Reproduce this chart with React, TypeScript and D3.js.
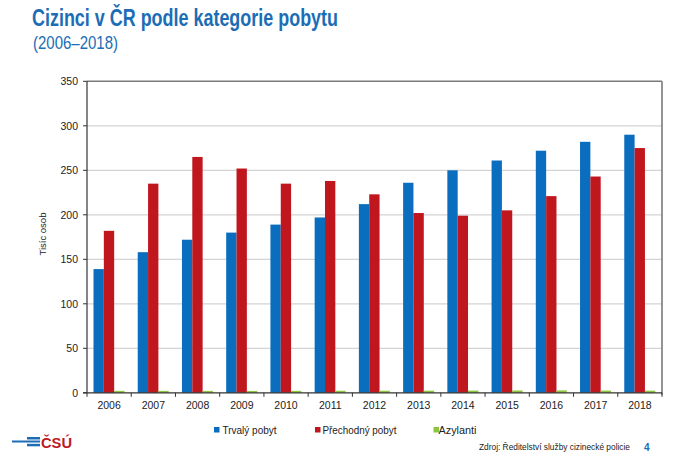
import React from "react";
import * as d3 from "d3";

const years = ["2006","2007","2008","2009","2010","2011","2012","2013","2014","2015","2016","2017","2018"];
const trvaly = [139, 158, 172, 180, 189, 197, 212, 236, 250, 261, 272, 282, 290];
const prechodny = [182, 235, 265, 252, 235, 238, 223, 202, 199, 205, 221, 243, 275];
const azylanti = [2.2, 2.2, 2.1, 2.1, 2.2, 2.3, 2.3, 2.4, 2.5, 2.6, 2.7, 2.5, 2.4];
const seriesNames = ["Trvalý pobyt", "Přechodný pobyt", "Azylanti"];
const yTicks = [0, 50, 100, 150, 200, 250, 300, 350];

const COLORS = ["#0a6dbd", "#c0171f", "#8cc63f"];
const FONT = "Liberation Sans, Arial, sans-serif";

export default function App() {
  const W = 682, H = 461;
  const left = 87, right = 662, top = 81.3, bottom = 392.8;
  const x = d3.scaleBand<string>().domain(years).range([left, right]).padding(0);
  const bw = x.bandwidth();
  const xs = d3.scaleBand<string>().domain(seriesNames).range([6.5, 37.5]).padding(0);
  const y = d3.scaleLinear().domain([0, 350]).range([bottom, top]);
  const data = [trvaly, prechodny, azylanti];

  const legendItems = [
    { name: seriesNames[0], sx: 214, tx: 222.5, len: 54 },
    { name: seriesNames[1], sx: 315, tx: 322.5, len: 74 },
    { name: seriesNames[2], sx: 433.5, tx: 438.5, len: 38 },
  ];

  return (
    <svg width={W} height={H} style={{ position: "absolute", left: 0, top: 0, background: "#fff" }}>
      <rect x={0} y={0} width={W} height={H} fill="#fff" />
      <text x={32} y={26} fontFamily={FONT} fontWeight="bold" fontSize={24} fill="#1b6db5"
        textLength={306} lengthAdjust="spacingAndGlyphs">Cizinci v ČR podle kategorie pobytu</text>
      <text x={33} y={49} fontFamily={FONT} fontSize={19} fill="#1b6db5"
        textLength={85} lengthAdjust="spacingAndGlyphs">(2006–2018)</text>

      {/* gridlines */}
      {yTicks.filter(t => t > 0 && t < 350).map(t => (
        <line key={t} x1={left} x2={right} y1={y(t)} y2={y(t)} stroke="#d4d4d4" strokeWidth={1.2} />
      ))}

      {/* bars */}
      {data.map((vals, si) => (
        <g key={si}>
          {years.map((yr, i) => (
            <rect key={yr}
              x={(x(yr) as number) + (xs(seriesNames[si]) as number)}
              y={y(vals[i])}
              width={xs.bandwidth()}
              height={bottom - y(vals[i])}
              fill={COLORS[si]} />
          ))}
        </g>
      ))}

      {/* frame */}
      <line x1={left} x2={right} y1={top} y2={top} stroke="#7a7a7a" strokeWidth={1.6} />
      <line x1={right} x2={right} y1={top} y2={bottom + 2} stroke="#7a7a7a" strokeWidth={1.6} />
      <line x1={left} x2={left} y1={top} y2={bottom} stroke="#333" strokeWidth={1.2} />
      <line x1={left - 4} x2={right} y1={bottom} y2={bottom} stroke="#333" strokeWidth={1.2} />

      {/* y ticks */}
      {yTicks.map(t => (
        <g key={t}>
          <line x1={left - 4} x2={left} y1={y(t)} y2={y(t)} stroke="#333" strokeWidth={1} />
          <text x={78} y={y(t) + 3.8} textAnchor="end" fontFamily={FONT} fontSize={10.5} fill="#222">{t}</text>
        </g>
      ))}
      <text transform={`translate(46,${(top + bottom) / 2 - 3}) rotate(-90)`} textAnchor="middle"
        fontFamily={FONT} fontSize={9.5} fill="#222">Tisíc osob</text>

      {/* x ticks */}
      {years.map((yr, i) => (
        <line key={"t" + yr} x1={left + i * bw} x2={left + i * bw} y1={bottom} y2={bottom + 4} stroke="#333" strokeWidth={1} />
      ))}
      <line x1={right} x2={right} y1={bottom} y2={bottom + 4} stroke="#333" strokeWidth={1} />
      {years.map(yr => (
        <text key={"l" + yr} x={(x(yr) as number) + bw / 2} y={409} textAnchor="middle"
          fontFamily={FONT} fontSize={10.5} fill="#222">{yr}</text>
      ))}

      {/* legend */}
      {legendItems.map((it, i) => (
        <g key={it.name}>
          <rect x={it.sx} y={427} width={5.5} height={5.5} fill={COLORS[i]} />
          <text x={it.tx} y={433.5} fontFamily={FONT} fontSize={10.5} fill="#222"
            textLength={it.len} lengthAdjust="spacingAndGlyphs">{it.name}</text>
        </g>
      ))}

      {/* source */}
      <text x={479} y={450} fontFamily={FONT} fontSize={9} fill="#222"
        textLength={151} lengthAdjust="spacingAndGlyphs">Zdroj: Ředitelství služby cizinecké policie</text>
      <text x={644} y={450.5} fontFamily={FONT} fontSize={10} fontWeight="bold" fill="#1b6db5">4</text>

      {/* logo */}
      <line x1={12} x2={40} y1={441.5} y2={441.5} stroke="#1b6db5" strokeWidth={2} />
      <rect x={27} y={437} width={13} height={2.5} fill="#1b6db5" />
      <rect x={27} y={443.8} width={13} height={2.5} fill="#1b6db5" />
      <text x={41} y={448} fontFamily={FONT} fontSize={14} fontWeight="bold" fill="#c0171f"
        textLength={31} lengthAdjust="spacingAndGlyphs">ČSÚ</text>
    </svg>
  );
}
